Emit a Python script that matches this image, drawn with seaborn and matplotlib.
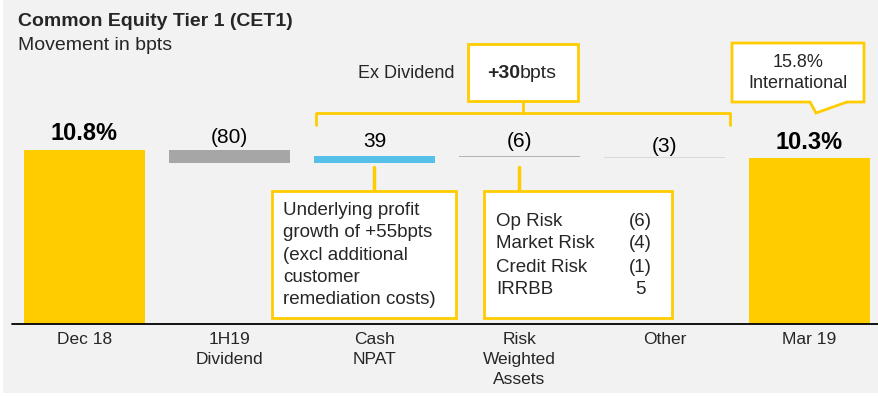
import numpy as np
import pandas as pd
import matplotlib.pyplot as plt
import seaborn as sns
from matplotlib.patches import Rectangle, Polygon
from matplotlib.lines import Line2D

# data
categories = ["Dec 18", "1H19\nDividend", "Cash\nNPAT", "Risk\nWeighted\nAssets", "Other", "Mar 19"]
start_cet1 = 10.8          # %
end_cet1 = 10.3            # %
movements_bpts = [-80, 39, -6, -3]
rwa_items = ["Op Risk", "Market Risk", "Credit Risk", "IRRBB"]
rwa_bpts = [-6, -4, -1, 5]
ex_dividend_bpts = 30
international_cet1 = 15.8
npat_note = "Underlying profit\ngrowth of +55bpts\n(excl additional\ncustomer\nremediation costs)"

colors = ["#FFCC00", "#A6A6A6", "#57C0E8", "#B3B3B3", "#D9D9D9", "#FFCC00"]
bg = "#F2F2F2"
yellow = "#FFCC00"

# waterfall geometry
level = [start_cet1]
for m in movements_bpts:
    level.append(level[-1] + m / 100)
heights = [start_cet1] + [abs(m) / 100 for m in movements_bpts] + [end_cet1]
bottoms = [0] + [min(level[i], level[i + 1]) for i in range(len(movements_bpts))] + [0]
tops = [b + h for b, h in zip(bottoms, heights)]
labels = [f"{start_cet1:.1f}%"] + [f"({-m})" if m < 0 else f"{m}" for m in movements_bpts] + [f"{end_cet1:.1f}%"]

df = pd.DataFrame({"cat": categories, "height": heights})

sns.set_style("white")
plt.rcParams["font.family"] = ["Liberation Sans", "DejaVu Sans"]

W, H = 879, 396
fig = plt.figure(figsize=(W / 100, H / 100), dpi=100, facecolor="white")
ax = fig.add_axes([3 / W, 3 / H, 1 - 3 / W, 1 - 3 / H])
ax.set_facecolor(bg)


def fp(x, y):
    return (x / W, 1 - y / H)


tf = fig.transFigure

sns.barplot(data=df, x="cat", y="height", hue="cat", palette=colors, legend=False,
            width=0.834, ax=ax, saturation=1)
for p, b in zip(ax.patches, bottoms):
    p.set_y(b)
    p.set_edgecolor("none")

ppu = 16.1   # pixels per % point
base = 323.5
ax.set_ylim(-(H - 3 - base) / ppu, base / ppu)
ax.set_xlim(-(84.5 - 3) / 145, (W - 84.5) / 145)
ax.axis("on")
for s in ax.spines.values():
    s.set_visible(False)
ax.set_xticks([])
ax.set_yticks([])
ax.set_xlabel("")
ax.set_ylabel("")
ax.axhline(0, xmin=9 / (W - 3), xmax=1, color="black", lw=1.3)

# value labels
offs = [3, 2, 4, 4, 1, 3]
for i, (t, lab) in enumerate(zip(tops, labels)):
    bold = i in (0, len(tops) - 1)
    ax.annotate(lab, (i, t), xytext=(0, offs[i]), textcoords="offset points",
                ha="center", va="bottom", fontsize=17 if bold else 15,
                fontweight="bold" if bold else "normal", color="black")

# category labels
for i, c in enumerate(categories):
    ax.text(i, -(332 - base) / ppu, c, ha="center", va="top", fontsize=12.5,
            linespacing=1.4)

# title
fig.text(*fp(18, 22), "Common Equity Tier 1 (CET1)", fontsize=14, fontweight="bold", va="center")
fig.text(*fp(18, 46), "Movement in bpts", fontsize=14, va="center")

# bracket over ex-dividend movements
ax.add_line(Line2D([316 / W, 316 / W, 730 / W, 730 / W], [1 - 125 / H, 1 - 113 / H, 1 - 113 / H, 1 - 125 / H],
                   transform=tf, color=yellow, lw=2, solid_joinstyle="round", clip_on=False))
ax.add_line(Line2D([523 / W, 523 / W], [1 - 113 / H, 1 - 101 / H], transform=tf, color=yellow, lw=2, clip_on=False))
x0, y0 = fp(468, 101)
ax.add_patch(Rectangle((x0, y0), 110 / W, 57 / H, transform=tf, facecolor="white",
                       edgecolor=yellow, lw=2, clip_on=False, zorder=5))
fig.text(*fp(520, 73), f"+{ex_dividend_bpts}", fontsize=14, fontweight="bold", ha="right", va="center", zorder=6)
fig.text(*fp(520, 73), "bpts", fontsize=14, ha="left", va="center", zorder=6)
fig.text(*fp(406, 74), "Ex Dividend", fontsize=13, ha="center", va="center")

# callout for international
pts = [(732, 43), (864, 43), (864, 102), (847, 102), (816, 113), (810, 102), (732, 102)]
ax.add_patch(Polygon([fp(x, y) for x, y in pts], closed=True, transform=tf, facecolor="white",
                     edgecolor=yellow, lw=2, clip_on=False, zorder=5))
fig.text(*fp(798, 73), f"{international_cet1:.1f}%\nInternational", fontsize=13, ha="center",
         va="center", linespacing=1.35, zorder=6)

# connectors and note boxes
for cx in (374, 519):
    ax.add_line(Line2D([cx / W, cx / W], [1 - 167 / H, 1 - 191 / H], transform=tf, color=yellow, lw=2.5,
                       clip_on=False))
for bx0, bx1 in ((272, 456), (484, 672)):
    ax.add_patch(Rectangle(fp(bx0, 318), (bx1 - bx0) / W, 127 / H, transform=tf, facecolor="white",
                           edgecolor=yellow, lw=2, clip_on=False, zorder=5))

fig.text(*fp(283, 255), npat_note, fontsize=13.5, ha="left", va="center", linespacing=1.4, zorder=6)

for k, (name, v) in enumerate(zip(rwa_items, rwa_bpts)):
    yy = 221 + 23 * k
    fig.text(*fp(496, yy), name, fontsize=13.5, ha="left", va="center", zorder=6)
    fig.text(*fp(640, yy), f"({-v})" if v < 0 else f"{v}", fontsize=13.5, ha="center", va="center", zorder=6)

fig.savefig("out.png", dpi=100, facecolor="white")
